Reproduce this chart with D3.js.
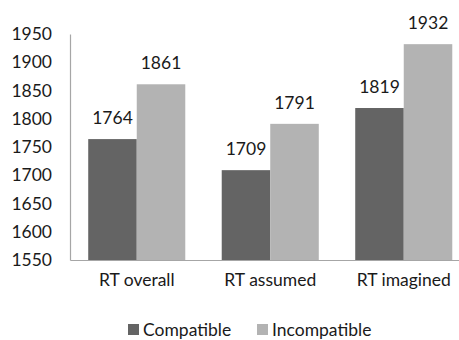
<!DOCTYPE html>
<html>
<head>
<meta charset="utf-8">
<script src="https://cdn.jsdelivr.net/npm/d3@7"></script>
<style>
  body { margin: 0; background: #fff; }
  text { font-family: Lato, "Open Sans", sans-serif; fill: #1a1a1a; }
</style>
</head>
<body>
<svg width="459" height="340"></svg>
<script>
const categories = ["RT overall", "RT assumed", "RT imagined"];
const seriesNames = ["Compatible", "Incompatible"];
const compatible = [1764, 1709, 1819];
const incompatible = [1861, 1791, 1932];
const yTicks = [1550, 1600, 1650, 1700, 1750, 1800, 1850, 1900, 1950];

const colors = d3.scaleOrdinal().domain(seriesNames).range(["#646464", "#b3b3b3"]);
const fontSize = "17.5px";

const svg = d3.select("svg");
const margin = { top: 34, left: 70, bottom: 80 };
const plotW = 400.5;
const plotH = 340 - margin.top - margin.bottom;

const data = categories.map((c, i) => ({
  category: c,
  values: [
    { name: "Compatible", value: compatible[i] },
    { name: "Incompatible", value: incompatible[i] }
  ]
}));

const x0 = d3.scaleBand()
  .domain(categories)
  .range([0, plotW])
  .paddingInner(0.273)
  .paddingOuter(0.1365);

const x1 = d3.scaleBand()
  .domain(seriesNames)
  .range([0, x0.bandwidth()]);

const y = d3.scaleLinear()
  .domain([1550, 1950])
  .range([plotH, 0]);

const g = svg.append("g")
  .attr("transform", `translate(${margin.left},${margin.top})`);

// bars
const groups = g.selectAll(".group")
  .data(data)
  .enter().append("g")
  .attr("transform", d => `translate(${x0(d.category)},0)`);

groups.selectAll("rect")
  .data(d => d.values)
  .enter().append("rect")
  .attr("x", d => x1(d.name))
  .attr("y", d => y(d.value))
  .attr("width", x1.bandwidth())
  .attr("height", d => plotH - y(d.value))
  .attr("fill", d => colors(d.name));

groups.selectAll(".lbl")
  .data(d => d.values)
  .enter().append("text")
  .attr("class", "lbl")
  .attr("x", d => x1(d.name) + x1.bandwidth() / 2)
  .attr("y", d => y(d.value) - 15)
  .attr("text-anchor", "middle")
  .style("font-size", fontSize)
  .text(d => d.value);

// y axis
const yAxis = g.append("g")
  .call(d3.axisLeft(y).tickValues(yTicks).tickFormat(d3.format("d")).tickSize(0).tickPadding(18));
yAxis.select(".domain").attr("stroke", "#a6a6a6").attr("stroke-width", 1.2);
yAxis.selectAll("text").style("font-size", fontSize).attr("fill", "#1a1a1a");

// x axis
const xAxis = g.append("g")
  .attr("transform", `translate(0,${plotH})`)
  .call(d3.axisBottom(x0).tickSize(0).tickPadding(14));
xAxis.select(".domain").attr("stroke", "#a6a6a6").attr("stroke-width", 1.2);
xAxis.selectAll("text").style("font-size", fontSize).attr("fill", "#1a1a1a");

// legend
const legendX = [128, 257];
const legend = svg.selectAll(".legend")
  .data(seriesNames)
  .enter().append("g")
  .attr("transform", (d, i) => `translate(${legendX[i]},324)`);

legend.append("rect")
  .attr("width", 11)
  .attr("height", 11)
  .attr("fill", d => colors(d));

legend.append("text")
  .attr("x", 15)
  .attr("y", 5.5)
  .attr("dy", "0.35em")
  .style("font-size", fontSize)
  .text(d => d);
</script>
</body>
</html>
